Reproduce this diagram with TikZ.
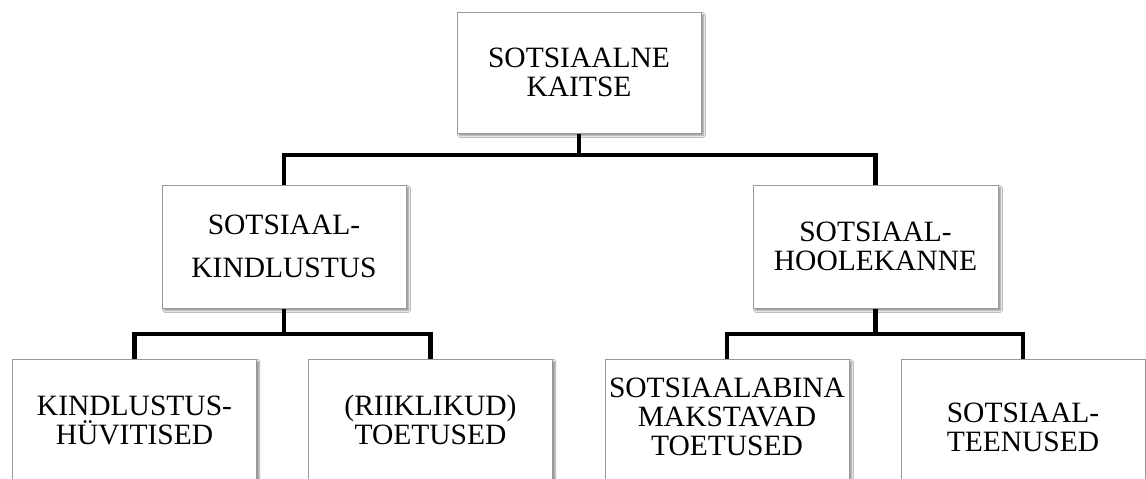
\documentclass[tikz,border=0pt]{standalone}
\usepackage{fontspec}
\setmainfont{Liberation Serif}
\usetikzlibrary{shadows,shadows.blur}
\tikzset{
  box/.style={draw=black!40, line width=1pt, fill=white, minimum width=244pt,
    minimum height=122pt, inner sep=0pt, text width=242pt, align=center,
    font=\fontsize{29.5}{29}\selectfont,
    blur shadow={shadow xshift=2.5pt, shadow yshift=-2.5pt, shadow blur steps=6, shadow opacity=45}},
  conn/.style={line width=4.5pt, draw=black, line join=miter}
}
\begin{document}
\begin{tikzpicture}[x=1pt,y=-1pt]
\useasboundingbox[fill=white] (0,0) rectangle (1146,479);
% junction coordinates
\coordinate (j1) at (579,155);
\coordinate (j2) at (284,334);
\coordinate (j3) at (875.5,334);
% connectors
\draw[conn] (284,246) |- (j1) -| (875.5,246);
\draw[conn] (579,72) -- (j1);
\draw[conn] (134.5,420) |- (j2) -| (430.5,420);
\draw[conn] (284,246) -- (j2);
\draw[conn] (727,420) |- (j3) -| (1023,420);
\draw[conn] (875.5,246) -- (j3);
% nodes
\node[box, minimum height=121pt] (top) at (579,72.5) {SOTSIAALNE\\KAITSE};
\node[box, minimum height=123pt, font=\fontsize{29.5}{43}\selectfont] (kind) at (284,246.5) {SOTSIAAL-\\KINDLUSTUS};
\node[box, minimum height=123pt, minimum width=245pt] (hool) at (875.5,246.5) {SOTSIAAL-\\HOOLEKANNE};
\node[box] (huv) at (134.5,420) {KINDLUSTUS-\\HÜVITISED};
\node[box] (riik) at (430.5,420) {(RIIKLIKUD)\\TOETUSED};
\node[box] (abi) at (727,420) {SOTSIAALABINA\\MAKSTAVAD\\\raisebox{0pt}[\height][7pt]{TOETUSED}};
\node[box, minimum height=136pt] (teen) at (1023,427) {SOTSIAAL-\\TEENUSED};
\end{tikzpicture}
\end{document}
